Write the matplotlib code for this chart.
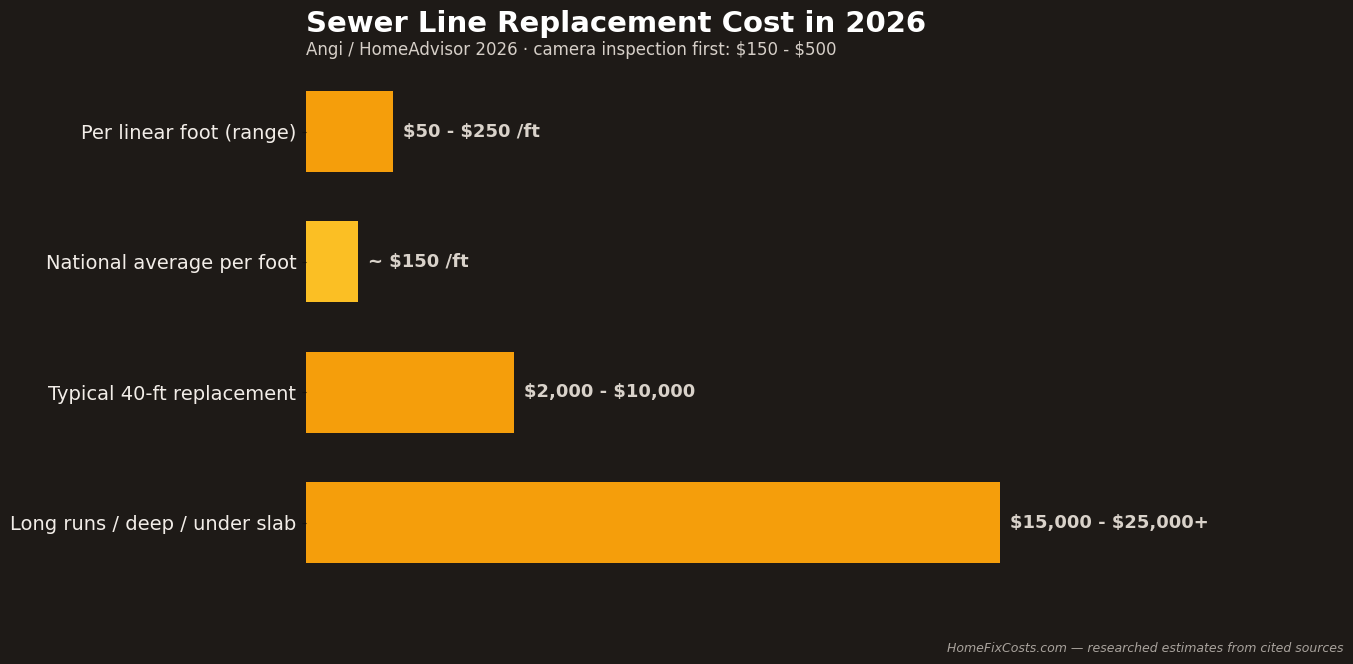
import matplotlib.pyplot as plt

plt.rcParams['text.parse_math'] = False

# Data (bar length = representative cost; per-foot values scaled x10 for display)
categories = ["Per linear foot (range)", "National average per foot",
              "Typical 40-ft replacement", "Long runs / deep / under slab"]
values = [2500, 1500, 6000, 20000]
value_labels = ["$50 - $250 /ft", "~ $150 /ft", "$2,000 - $10,000", "$15,000 - $25,000+"]
bar_colors = ["#f59e0b", "#fbbf24", "#f59e0b", "#f59e0b"]

bg = "#1e1a17"

fig = plt.figure(figsize=(13.53, 6.64), dpi=100, facecolor=bg)
ax = fig.add_axes([0.2262, 0.1149, 0.7694, 0.7851], facecolor=bg)

y = list(range(len(categories)))
ax.barh(y, values, height=0.62, color=bar_colors)
ax.set_ylim(3.5, -0.5)
ax.set_xlim(0, 30000)

for yi, v, lab in zip(y, values, value_labels):
    ax.text(v + 290, yi, lab, va="center", ha="left", fontsize=13,
            fontweight="bold", color="#d9d2ca")

ax.set_yticks(y)
ax.set_yticklabels(categories, fontsize=14, color="#f2ede8")
ax.tick_params(axis="y", length=3, color="#111111", pad=4)
ax.set_xticks([])
for s in ax.spines.values():
    s.set_visible(False)

fig.text(0.2262, 0.964, "Sewer Line Replacement Cost in 2026", fontsize=21,
         fontweight="bold", color="white", ha="left", va="center")
fig.text(0.2262, 0.925, "Angi / HomeAdvisor 2026 \u00b7 camera inspection first: $150 - $500",
         fontsize=12, color="#d6cfc8", ha="left", va="center")
fig.text(0.993, 0.024, "HomeFixCosts.com \u2014 researched estimates from cited sources",
         fontsize=9, style="italic", color="#a8a29c", ha="right", va="center")

fig.savefig("out.png", dpi=100, facecolor=bg)
